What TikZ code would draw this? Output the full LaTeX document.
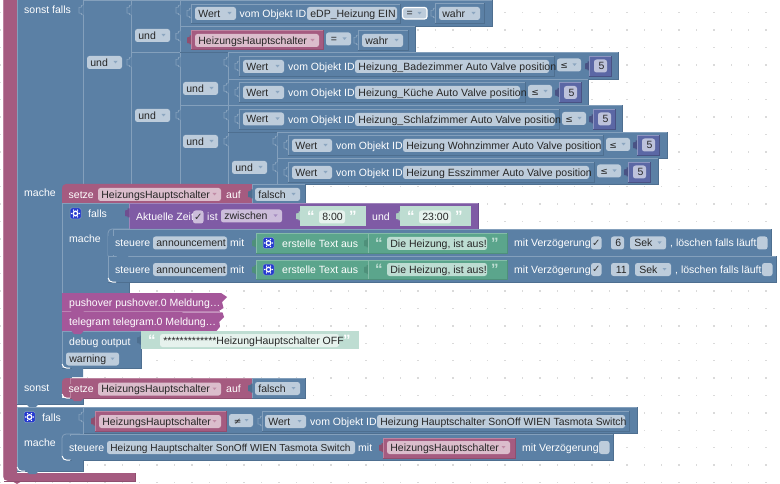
\documentclass[tikz,border=0pt]{standalone}
\usepackage{fontspec}
\setmainfont{Liberation Sans}
\newfontfamily\symfont{DejaVu Sans}
\definecolor{bl}{HTML}{5B80A5}\definecolor{blL}{HTML}{84A0BC}\definecolor{blD}{HTML}{4E6F90}\definecolor{blF}{HTML}{BDCCDB}
\definecolor{pk}{HTML}{A55B80}\definecolor{pkL}{HTML}{BC84A0}\definecolor{pkD}{HTML}{904E6F}\definecolor{pkF}{HTML}{DBBDCC}
\definecolor{pu}{HTML}{7F5BA5}\definecolor{puL}{HTML}{A084BC}\definecolor{puD}{HTML}{6F4E90}\definecolor{puF}{HTML}{CCBDDB}
\definecolor{gr}{HTML}{5BA58C}\definecolor{grL}{HTML}{84BCA8}\definecolor{grD}{HTML}{4E907A}\definecolor{grF}{HTML}{BDDDD2}
\definecolor{lt}{HTML}{BEDDD2}\definecolor{ltL}{HTML}{CFE6DD}\definecolor{ltD}{HTML}{AACBBF}\definecolor{ltF}{HTML}{E6F2ED}
\definecolor{nu}{HTML}{5B67A5}\definecolor{nuL}{HTML}{8C95C0}\definecolor{nuD}{HTML}{495284}\definecolor{nuF}{HTML}{BDC2DB}
\definecolor{ph}{HTML}{A5579A}\definecolor{phL}{HTML}{BC84B4}\definecolor{phD}{HTML}{84497C}
\definecolor{ic}{HTML}{2438D0}
\definecolor{dotc}{HTML}{DADADA}
\newcount\nid
\newcommand\nn{\global\advance\nid by 1 }
\newcommand\vs{\addfontfeature{LetterSpace=0.7}}
\tikzset{
 lbl/.style={anchor=base west,inner sep=0pt,text=white,font=\fontsize{10.5}{12}\selectfont},
 ftx/.style={anchor=base west,inner sep=0pt,text=black!85,font=\fontsize{10.5}{12}\selectfont},
 edge/.style={line width=0.75pt},
}
% block: x1 y1 x2 y2 colour
\newcommand\blk[5]{\fill[#5] (#1,#2) rectangle (#3,#4);
 \draw[#5D,edge] (#1,#4)--(#3,#4)--(#3,#2);
 \draw[#5L,edge] (#1,#4)--(#1,#2)--(#3,#2);}
% label: x cy text
\newcommand\lb[3]{\nn\node[lbl] (n\the\nid) at (#1,#2+3.6) {#3};}
% field: x1 x2 cy text fillcolour
\newcommand\fld[5]{\fill[#5,rounded corners=2.5pt] (#1,#3-6.5) rectangle (#2,#3+6.5);
 \nn\node[ftx] (n\the\nid) at (#1+3.2,#3+3.6) {#4};}
% dropdown field: x1 x2 cy text colour (arrow colour)
\newcommand\dd[6]{\fld{#1}{#2}{#3}{#4}{#5}
 \fill[#6!70!white] (#2-8.5,#3-1.5)--(#2-4.5,#3-1.5)--(#2-6.5,#3+1)--cycle;}
% checkbox
\newcommand\chk[3]{\fill[#3,rounded corners=2.5pt] (#1,#2-6.5) rectangle (#1+10.5,#2+6.5);}
\newcommand\chkm[3]{\chk{#1}{#2}{#3}\nn\node[inner sep=0pt,text=black!80,font=\symfont\fontsize{10}{12}\selectfont] (n\the\nid) at (#1+5.2,#2) {✓};}
% value tab: x cy colour
\newcommand\tb[3]{\draw[fill=#3,draw=#3L,line width=.6pt] (#1+.5,#2-5)--(#1-1.5,#2-4.6)--(#1-1.5,#2-3)--(#1-4,#2-2.5)--(#1-4,#2+3)--(#1-1.5,#2+3.5)--(#1-1.5,#2+4.6)--(#1+.5,#2+5);}
\newcommand\tbd[3]{\fill[#3D] (#1+.5,#2-4.5)--(#1-1.5,#2-4.5)--(#1-1.5,#2-3)--(#1-4,#2-2.5)--(#1-4,#2+3)--(#1-1.5,#2+3.5)--(#1-1.5,#2+4.5)--(#1+.5,#2+4.5)--cycle;}
% statement nub: x y colour
\newcommand\nub[3]{\fill[#3] (#1,#2-.5)--(#1+3,#2+3)--(#1+10,#2+3)--(#1+13,#2-.5)--cycle;}
% white corner
\newcommand\cor[2]{\draw[white,line width=1pt] (#1+.2,#2-4) .. controls (#1+.5,#2-1.5) and (#1+2,#2+.2) .. (#1+5,#2+.2)--(#1+8,#2+.2);}
% gear icon
\newcommand\icon[2]{\fill[ic,rounded corners=1.5pt,draw=blL,line width=.5pt] (#1,#2-5.5) rectangle (#1+11,#2+5.5);
 \draw[white,line width=1.3pt] (#1+5.5,#2) circle (2.3pt);
 \foreach \a in {0,60,...,300}{\fill[white] (#1+5.5,#2) ++(\a:3.9pt) circle (.8pt);}}
% quotes
\newcommand\qo[3]{\nn\node[lbl,text=#3,font=\bfseries\fontsize{15}{15}\selectfont] (n\the\nid) at (#1,#2+11.5) {“};}
\newcommand\qc[3]{\nn\node[lbl,text=#3,font=\bfseries\fontsize{15}{15}\selectfont] (n\the\nid) at (#1,#2+11.5) {”};}
% number block
\newcommand\numb[3]{\tbd{#1}{#3}{nu}\blk{#1}{#3-10}{#1+22}{#3+10}{nu}\fld{#1+5}{#1+18}{#3}{\kern1.2pt 5}{nuF}}
\begin{document}
\begin{tikzpicture}[x=1pt,y=-1pt]
\useasboundingbox (0,0) rectangle (780,484);
\fill[white] (0,0) rectangle (780,484);
\foreach \i in {0,...,44}{\foreach \j in {0,...,27}{
 \fill[dotc] ({0.4+17.4*\i-.7},{12.7+17.4*\j-.7}) rectangle ++(1.4,1.4);}}
% outer block
\fill[pk] (3,0)--(17,0)--(17,473)--(135,473)--(135,481)--(22,481)--(17,484)--(12,481)--(8,481) .. controls (5,481) and (3,479) .. (3,476)--cycle;
\draw[pkL,edge] (3,0)--(3,477);
\draw[pkD,edge] (4,481)--(135,481)--(135,473);
% big if block
\fill[bl] (17,0)--(83,0)--(83,184)--(62,184)--(62,368)--(83,368)--(83,377)--(62,377)--(62,398)--(83,398)--(83,404)--(17,404)--cycle;
\draw[blL,line width=.5pt] (17,0)--(17,404);
\draw[blD,edge] (17,404)--(83,404)--(83,398);
\lb{24}{10}{sonst falls}
\lb{24}{193}{mache}
\lb{24}{388}{sonst}
% und nest
\blk{83}{0}{131}{184}{bl}
\blk{131}{0}{180}{52}{bl}
\blk{131}{52}{180}{184}{bl}
\blk{180}{52}{228}{105}{bl}
\blk{180}{105}{228}{184}{bl}
\blk{228}{132}{277}{184}{bl}
\dd{87}{122}{62.5}{und}{blF}{bl}
\dd{135}{170}{35.5}{und}{blF}{bl}
\dd{135}{170}{115.5}{und}{blF}{bl}
\dd{183}{218}{88.5}{und}{blF}{bl}
\dd{183}{218}{141.5}{und}{blF}{bl}
\dd{232}{267}{167.5}{und}{blF}{bl}
\tb{83}{10}{bl}
\tb{131}{10}{bl}\tb{131}{62}{bl}
\tb{180}{36}{bl}\tb{180}{115}{bl}
\tb{228}{88}{bl}\tb{228}{141}{bl}
% row A
\blk{180}{0}{492}{26}{bl}
\tb{180}{10}{bl}
\tb{191}{13}{bl}
\blk{191}{4}{400}{23}{bl}
\dd{195}{236}{13.5}{Wert}{blF}{bl}
\lb{239.5}{13.5}{vom Objekt ID}
\fld{307}{397}{13.5}{eDP\_Heizung EIN}{blF}
\fill[blF,rounded corners=2.5pt,draw=white,line width=1.2pt] (402.5,7.5) rectangle (427,19);
\nn\node[ftx] (n\the\nid) at (406.5,16.8) {=};
\fill[bl!70!white] (417.5,12)--(421.5,12)--(419.5,14.5)--cycle;
\tb{435}{13}{bl}
\blk{435}{3}{484}{23}{bl}
\dd{439}{480}{13.5}{wahr}{blF}{bl}
% row B
\blk{180}{26}{415}{52}{bl}
\tb{180}{36}{bl}
\tbd{191}{40}{pk}
\blk{191}{30}{323}{49}{pk}
\dd{195}{319}{40.5}{HeizungsHauptschalter}{pkF}{pk}
\dd{326}{351}{39}{\kern1.5pt =}{blF}{bl}
\tb{358}{40}{bl}
\blk{358}{30}{408}{50}{bl}
\dd{362}{403}{40.5}{wahr}{blF}{bl}
% row C
\blk{228}{52}{618}{79}{bl}
\tb{228}{62}{bl}
\tb{180}{62}{bl}
\tb{239}{66}{bl}
\blk{239}{56}{554}{76}{bl}
\dd{243}{284}{66.5}{Wert}{blF}{bl}
\lb{288}{66.5}{vom Objekt ID}
\fld{355}{549}{66.5}{\vs Heizung\_Badezimmer Auto Valve position}{blF}
\dd{557}{581}{65}{\symfont\fontsize{9}{10}\selectfont ≤}{blF}{bl}
\numb{589}{}{66}
% row D
\blk{228}{79}{588}{105}{bl}
\tb{228}{88}{bl}
\tb{239}{92}{bl}
\blk{239}{82}{525}{102}{bl}
\dd{243}{284}{92.5}{Wert}{blF}{bl}
\lb{288}{92.5}{vom Objekt ID}
\fld{355}{520}{92.5}{\vs Heizung\_Küche Auto Valve position}{blF}
\dd{528}{552}{91.5}{\symfont\fontsize{9}{10}\selectfont ≤}{blF}{bl}
\numb{559}{}{92.5}
% row E
\blk{228}{105}{622}{132}{bl}
\tb{228}{115}{bl}
\tb{239}{119}{bl}
\blk{239}{109}{559}{129}{bl}
\dd{243}{284}{119}{Wert}{blF}{bl}
\lb{288}{119.5}{vom Objekt ID}
\fld{355}{555}{119.5}{\vs Heizung\_Schlafzimmer Auto Valve position}{blF}
\dd{562}{586}{118.5}{\symfont\fontsize{9}{10}\selectfont ≤}{blF}{bl}
\numb{593}{}{119}
% row F
\blk{277}{132}{667}{158}{bl}
\tb{277}{141}{bl}
\tb{288}{145}{bl}
\blk{288}{135}{603}{155}{bl}
\dd{292}{332}{145.5}{Wert}{blF}{bl}
\lb{336}{145.5}{vom Objekt ID}
\fld{403}{601}{145.5}{Heizung Wohnzimmer Auto Valve position}{blF}
\dd{606}{630}{144.5}{\symfont\fontsize{9}{10}\selectfont ≤}{blF}{bl}
\numb{637}{}{145}
% row G
\blk{277}{158}{658}{184}{bl}
\tb{277}{167}{bl}
\tb{288}{172}{bl}
\blk{288}{162}{594}{182}{bl}
\dd{292}{332}{172.5}{Wert}{blF}{bl}
\lb{336}{172.5}{vom Objekt ID}
\fld{403}{589}{172.5}{Heizung Esszimmer Auto Valve position}{blF}
\dd{597}{621}{171}{\symfont\fontsize{9}{10}\selectfont ≤}{blF}{bl}
\numb{628}{}{172}
% setze 1
\fill[bl] (62,184) rectangle (72,192);
\fill[pk,rounded corners=4pt] (62,203)--(62,184)--(200,184)--(200,203)--cycle;
\fill[pk] (66,187) rectangle (252,203);\fill[pk] (62,196) rectangle (70,203);\fill[pk] (70,184) rectangle (252,190);
\draw[pkD,edge] (62,203.2)--(252,203.2);
\draw[pkD,edge] (252,184)--(252,203);
\lb{68.5}{195}{setze}
\dd{98}{221}{194.5}{HeizungsHauptschalter}{pkF}{pk}
\lb{226}{195}{auf}
\blk{252}{184}{305}{204}{bl}
\tbd{252}{194}{bl}
\dd{255}{300}{194.5}{falsch}{blF}{bl}
% nested falls
\blk{62}{203}{129}{293}{bl}
\icon{70}{213.5}
\lb{88}{214}{falls}
\lb{69}{239}{mache}
\blk{129}{203}{478}{230}{pu}
\tbd{129}{213}{pu}
\lb{136}{217}{Aktuelle Zeit}
\chkm{193}{217}{puF}
\lb{207}{217}{ist}
\dd{221}{282}{216}{zwischen}{puF}{pu}
\tbd{300}{216}{lt}
\fill[lt] (300,206.5) rectangle (365.5,226.5);
\qo{307}{210}{white}
\fld{319}{345}{217}{8:00}{ltF}
\qc{349}{210}{white}
\lb{372}{217}{und}
\tbd{400}{216}{lt}
\fill[lt] (400,206.5) rectangle (470.7,226.5);
\qo{407}{210}{white}
\fld{419}{451}{217}{23:00}{ltF}
\qc{455}{210}{white}
% steuere rows
\fill[bl,rounded corners=4pt] (108,256)--(108,229)--(200,229)--(200,256)--cycle;
\draw[blL,edge,rounded corners=4pt] (108,256)--(108,229)--(130,229);
\blk{113}{229}{771}{256}{bl}
\fill[bl] (108.4,236) rectangle (116,255);
\blk{108}{256}{776}{282}{bl}
\lb{115}{243}{steuere}
\fld{153}{227}{243}{announcement}{blF}
\lb{230}{243}{mit}
\tbd{256}{243}{gr}
\blk{256}{233}{368}{253}{gr}
\icon{263}{243}
\lb{282}{244}{erstelle Text aus}
\tbd{368}{243}{gr}
\blk{368}{233}{507}{253}{gr}
\qo{375}{237}{grF}
\fld{387}{487}{243.5}{Die Heizung, ist aus!}{grF}
\qc{491}{237}{grF}
\lb{514}{243}{mit Verzögerung}
\chkm{591}{243}{blF}
\fld{611}{624}{243}{\kern1pt 6}{blF}
\dd{630}{666}{243}{\kern1pt Sek}{blF}{bl}
\lb{670}{243}{, löschen falls läuft}
\chk{757}{243}{blF}
\lb{115}{269.5}{steuere}
\fld{153}{227}{269.5}{announcement}{blF}
\lb{230}{269.5}{mit}
\tbd{256}{269.5}{gr}
\blk{256}{260}{368}{279}{gr}
\icon{263}{269.5}
\lb{282}{270}{erstelle Text aus}
\tbd{368}{269.5}{gr}
\blk{368}{260}{507}{279}{gr}
\qo{375}{263}{grF}
\fld{387}{487}{269.5}{Die Heizung, ist aus!}{grF}
\qc{491}{263}{grF}
\lb{514}{269.5}{mit Verzögerung}
\chkm{591}{269.5}{blF}
\fld{611}{629}{269.5}{\kern1.5pt 11}{blF}
\dd{635}{671}{269.5}{\kern1pt Sek}{blF}{bl}
\lb{675}{269.5}{, löschen falls läuft}
\chk{762}{269.5}{blF}
\nub{116}{256}{bl}
\cor{108}{282}
% pushover / telegram
\fill[ph] (62,293)--(221,293)--(227,297)--(222,302)--(223.5,308)--(218,311.5)--(62,311.5)--cycle;
\fill[ph] (62,311.5)--(222.5,312.5)--(224,317)--(219.3,321.7)--(220,326.7)--(216.5,331)--(62,331)--cycle;
\draw[phL,line width=.5pt] (62,311.5)--(220,311.5);
\lb{69}{303}{pushover pushover.0 Meldung…}
\lb{69}{322}{telegram telegram.0 Meldung…}
\nub{71}{311.5}{ph}
% debug
\blk{62}{331}{141}{368}{bl}
\nub{71}{331}{ph}
\lb{69}{341.5}{debug output}
\tbd{141}{340}{bl}
\fill[lt] (141,331) rectangle (359,349);
\qo{148}{334}{white}
\fld{160}{339}{340.5}{*************HeizungHauptschalter OFF}{ltF}
\qc{343}{334}{white}
\dd{66}{119}{359}{warning}{blF}{bl}
\cor{62}{368}
\nub{71}{368}{bl}
% sonst setze
\fill[bl] (62,377) rectangle (72,385);
\fill[pk,rounded corners=4pt] (62,398)--(62,378)--(200,378)--(200,398)--cycle;
\blk{70}{378}{252}{398}{pk}
\fill[pk] (62,384) rectangle (72,392);
\lb{68.5}{389}{setze}
\dd{98}{221}{389}{HeizungsHauptschalter}{pkF}{pk}
\lb{226}{389}{auf}
\blk{252}{378}{305}{398}{bl}
\tbd{252}{388}{bl}
\dd{255}{300}{388.5}{falsch}{blF}{bl}
\cor{62}{398}
\nub{71}{398}{pk}
\nub{26}{404}{bl}
% second if
\fill[bl] (17,407)--(83,407)--(83,434)--(62,434)--(62,460)--(83,460)--(83,471)--(17,471)--cycle;
\draw[blL,line width=.5pt] (17,471)--(17,407)--(83,407);
\draw[blD,edge] (17,471)--(83,471)--(83,460);
\icon{24}{417}
\lb{42}{418}{falls}
\lb{24}{443}{mache}
\blk{83}{407}{637}{433.5}{bl}
\tb{83}{417}{bl}
\tbd{95}{421}{pk}
\blk{95}{411}{226}{431}{pk}
\dd{99}{221}{421.5}{HeizungsHauptschalter}{pkF}{pk}
\dd{229}{253}{420.5}{\kern1.5pt\symfont\fontsize{9}{10}\selectfont ≠}{blF}{bl}
\tb{262}{421}{bl}
\blk{262}{411}{629}{431}{bl}
\dd{265}{306}{421.5}{Wert}{blF}{bl}
\lb{310}{421.5}{vom Objekt ID}
\fld{377}{625}{421.5}{\fontsize{10.4}{12}\selectfont Heizung Hauptschalter SonOff WIEN Tasmota Switch}{blF}
\fill[bl] (62,434) rectangle (70,460);
\blk{70}{434}{613}{460}{bl}
\fill[bl] (62,436) rectangle (72,459);
\draw[blL,edge,rounded corners=4pt] (62,456)--(62,434)--(80,434);
\lb{69}{447.5}{steuere}
\fld{107}{355}{447.5}{\fontsize{10.15}{12}\selectfont Heizung Hauptschalter SonOff WIEN Tasmota Switch}{blF}
\lb{358}{447.5}{mit}
\tbd{383}{447.5}{pk}
\blk{383}{438}{515}{458}{pk}
\dd{387}{510}{447.5}{HeizungsHauptschalter}{pkF}{pk}
\lb{522}{447.5}{mit Verzögerung}
\chk{599}{447.5}{blF}
\cor{62}{460}
\nub{71}{460}{bl}
\cor{17}{471}
\nub{26}{471}{bl}
\end{tikzpicture}
\end{document}
